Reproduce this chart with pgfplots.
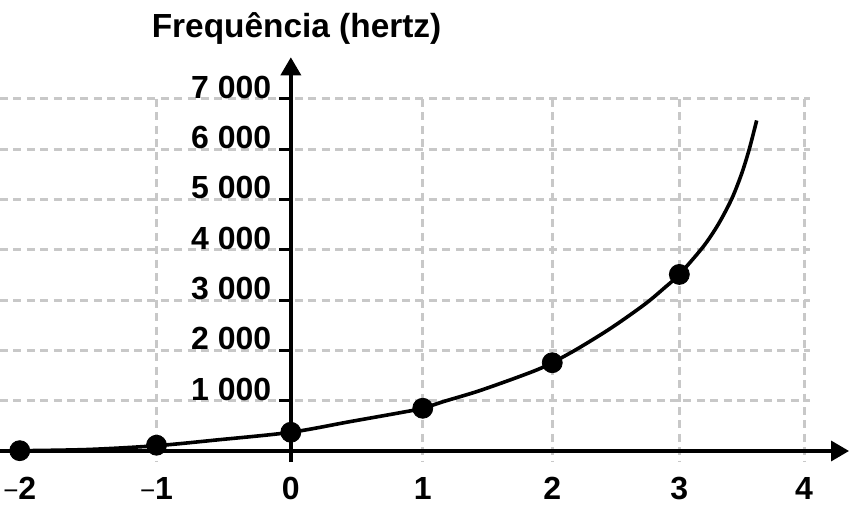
\documentclass[border=0pt]{standalone}
\usepackage{pgfplots}
\pgfplotsset{compat=1.18}
\usepackage{fontspec}
\setmainfont{Liberation Sans}
\usetikzlibrary{arrows.meta}
\definecolor{gridgray}{HTML}{C8C8C8}
\newcommand{\mn}{{\mdseries\fontsize{13}{13}\selectfont −}}
\begin{document}
\begin{tikzpicture}
\begin{axis}[
  set layers,
  scale only axis,
  width=424.5pt, height=202.35pt,
  x coord trafo/.code={\pgfmathparse{#1-0.009078*(#1)*(#1)}},
  x coord inv trafo/.code={\pgfmathparse{(1-sqrt(1-4*0.009078*(#1)))/(2*0.009078)}},
  xmin=-2.143, xmax=4.366,
  ymin=-219, ymax=7827,
  axis lines=middle,
  axis line style={line width=1.7pt, -{Triangle[length=9pt,width=10pt]}},
  hide obscured x ticks=false,
  hide obscured y ticks=false,
  xtick={-2,-1,0,1,2,3,4},
  xticklabels={\mn2,\mn1,0,1,2,3,4},
  ytick={1000,2000,3000,4000,5000,6000,7000},
  yticklabels={1 000,2 000,3 000,4 000,5 000,6 000,7 000},
  major tick length=0pt,
  tick style={draw=none},
  xticklabel style={anchor=base, inner sep=0pt, yshift=-24.15pt},
  yticklabel style={anchor=base east, inner sep=0pt, xshift=-9.6pt, yshift=0.3pt},
  ticklabel style={font=\fontsize{16}{18}\selectfont\bfseries},
  clip=false,
]
\begin{pgfonlayer}{axis background}
\pgfplotsinvokeforeach{1000,2000,3000,4000,5000,6000,7000}{
  \draw[gridgray, line width=1.5pt, dash pattern=on 4pt off 2.7pt] (axis cs:-2.143,#1) -- (axis cs:4.05,#1);
}
\pgfplotsinvokeforeach{-1,1,2,3,4}{
  \draw[gridgray, line width=1.5pt, dash pattern=on 4pt off 2.7pt] (axis cs:#1,7000) -- (axis cs:#1,-210);
}
\end{pgfonlayer}
\pgfplotsinvokeforeach{1000,2000,3000,4000,5000,6000,7000}{
  \draw[line width=1.5pt] ([xshift=-6pt]axis cs:0,#1) -- (axis cs:0,#1);
}
\addplot[black, line width=1.8pt, smooth, no markers] coordinates {
(-2.143,0) (-2,5) (-1.5,30) (-1,105) (-0.555,219) (0,372) (0.445,583)
(0.825,760) (1,849) (1.156,980) (1.413,1179) (1.671,1411) (1.878,1610)
(2,1755) (2.203,2040) (2.465,2452) (2.728,2920) (2.886,3252) (3,3510)
(3.19,4061) (3.31,4505) (3.418,5013) (3.498,5517) (3.559,6005) (3.618,6571)
};
\addplot[only marks, mark=*, mark size=5pt, black] coordinates {
(-2,6) (-1,115) (0,372) (1,849) (2,1755) (3,3510)
};
\node[anchor=base, font=\fontsize{16.7}{18}\selectfont\bfseries] at (axis cs:0.043,8220) {Frequência (hertz)};
\coordinate (bl) at (axis cs:-2.143,-1352);
\coordinate (tr) at (axis cs:4.374,8966);
\end{axis}
\pgfresetboundingbox
\path[use as bounding box] (bl) rectangle (tr);
\end{tikzpicture}
\end{document}
